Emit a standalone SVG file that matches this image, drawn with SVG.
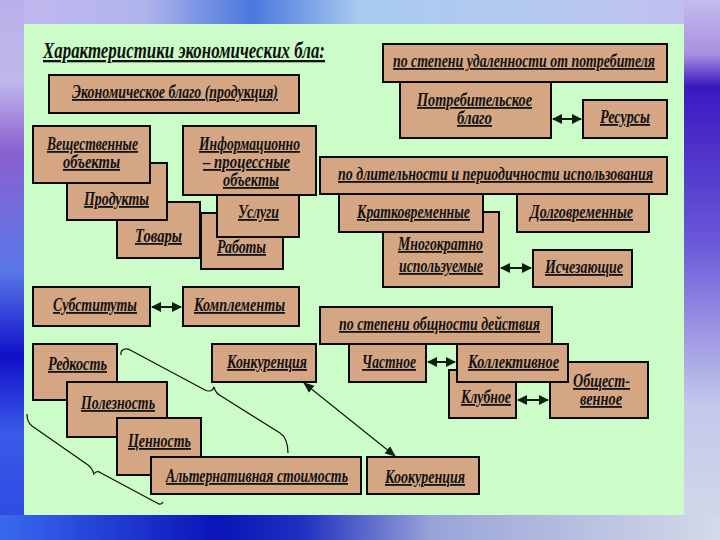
<svg xmlns="http://www.w3.org/2000/svg" width="720" height="540" viewBox="0 0 720 540">
<defs>
<linearGradient id="gTop" x1="0" y1="0" x2="1" y2="0">
<stop offset="0" stop-color="#c4baf0"/><stop offset="0.2" stop-color="#b0b4ec"/><stop offset="0.35" stop-color="#4a78dc"/><stop offset="0.5" stop-color="#a8cbf0"/><stop offset="0.8" stop-color="#b8c8f0"/><stop offset="1" stop-color="#c4bcf0"/>
</linearGradient>
<linearGradient id="gLeft" x1="0" y1="0" x2="0" y2="1">
<stop offset="0" stop-color="#b8b0e8"/><stop offset="0.15" stop-color="#c0b8ec"/><stop offset="0.28" stop-color="#8a60d0"/><stop offset="0.5" stop-color="#5a78e8"/><stop offset="0.66" stop-color="#1010c8"/><stop offset="0.8" stop-color="#3a5ae8"/><stop offset="1" stop-color="#2a48e0"/>
</linearGradient>
<linearGradient id="gBot" x1="0" y1="0" x2="1" y2="0">
<stop offset="0" stop-color="#3a6af0"/><stop offset="0.3" stop-color="#0a14b8"/><stop offset="0.42" stop-color="#2030c0"/><stop offset="0.6" stop-color="#98a4d8"/><stop offset="1" stop-color="#d4dae8"/>
</linearGradient>
<linearGradient id="gRight" x1="0" y1="0" x2="0" y2="1">
<stop offset="0" stop-color="#c4bcf0"/><stop offset="0.1" stop-color="#a890e0"/><stop offset="0.16" stop-color="#3a18c0"/><stop offset="0.45" stop-color="#6a58d8"/><stop offset="0.75" stop-color="#c4c8ec"/><stop offset="1" stop-color="#d4dae8"/>
</linearGradient>
<marker id="ah" viewBox="0 0 10 10" refX="9" refY="5" markerWidth="10" markerHeight="11" markerUnits="userSpaceOnUse" orient="auto-start-reverse">
<path d="M0,0 L10,5 L0,10 Z" fill="#0d1f10"/>
</marker>
<marker id="ahs" viewBox="0 0 10 10" refX="9" refY="5" markerWidth="11" markerHeight="11" markerUnits="userSpaceOnUse" orient="auto-start-reverse">
<path d="M0,1 L10,5 L0,9 Z" fill="#0d1f10"/>
</marker>
<style>
.b{fill:#d4a684;stroke:#0a0a0a;stroke-width:2}
.t{font-family:"Liberation Serif","DejaVu Serif",serif;font-weight:bold;font-style:italic;font-size:18px;fill:#111;text-decoration:underline}
.ttl{font-size:23px}
.ar{stroke:#0d1f10;stroke-width:2;fill:none;marker-start:url(#ah);marker-end:url(#ah)}
.thin{stroke:#0d1f10;stroke-width:1.2;fill:none;marker-start:url(#ahs);marker-end:url(#ahs)}
.br{stroke:#111;stroke-width:1.2;fill:none}
</style>
</defs>
<rect x="0" y="0" width="720" height="540" fill="#c0c6ec"/>
<rect x="0" y="0" width="720" height="24" fill="url(#gTop)"/>
<rect x="0" y="0" width="24" height="540" fill="url(#gLeft)"/>
<rect x="684" y="0" width="36" height="540" fill="url(#gRight)"/>
<rect x="0" y="515" width="720" height="25" fill="url(#gBot)"/>
<rect x="24" y="24" width="660" height="491" fill="#ccfcc8"/>

<text class="t ttl" x="43" y="58" textLength="282" lengthAdjust="spacingAndGlyphs">Характеристики экономических бла:</text>

<g id="n-econ"><rect class="b" x="49" y="75" width="250" height="38"/><text class="t" x="72" y="98" textLength="206" lengthAdjust="spacingAndGlyphs">Экономическое благо (продукция)</text></g>
<g id="n-tovary"><rect class="b" x="117" y="202" width="83" height="56"/><text class="t" x="135" y="242" textLength="47" lengthAdjust="spacingAndGlyphs">Товары</text></g>
<g id="n-produkty"><rect class="b" x="67" y="163" width="100" height="57"/><text class="t" x="84" y="205" textLength="65" lengthAdjust="spacingAndGlyphs">Продукты</text></g>
<g id="n-veshch"><rect class="b" x="33" y="126" width="117" height="57"/><text class="t" x="47" y="150" textLength="91" lengthAdjust="spacingAndGlyphs">Вещественные</text><text class="t" x="63" y="168" textLength="57" lengthAdjust="spacingAndGlyphs">объекты</text></g>
<g id="n-raboty"><rect class="b" x="201" y="213" width="82" height="56"/><text class="t" x="217" y="253" textLength="49" lengthAdjust="spacingAndGlyphs">Работы</text></g>
<g id="n-uslugi"><rect class="b" x="217" y="190" width="82" height="47"/><text class="t" x="238" y="218" textLength="41" lengthAdjust="spacingAndGlyphs">Услуги</text></g>
<g id="n-info"><rect class="b" x="183" y="126" width="133" height="69"/><text class="t" x="199" y="150" textLength="101" lengthAdjust="spacingAndGlyphs">Информационно</text><text class="t" x="203" y="168" textLength="87" lengthAdjust="spacingAndGlyphs">– процессные</text><text class="t" x="223" y="186" textLength="56" lengthAdjust="spacingAndGlyphs">объекты</text></g>

<g id="n-potreb"><rect class="b" x="400" y="82" width="151" height="56"/><text class="t" x="417" y="106" textLength="115" lengthAdjust="spacingAndGlyphs">Потребительское</text><text class="t" x="457" y="124" textLength="35" lengthAdjust="spacingAndGlyphs">благо</text></g>
<g id="n-h1"><rect class="b" x="383" y="44" width="284" height="38"/><text class="t" x="393" y="67" textLength="262" lengthAdjust="spacingAndGlyphs">по степени удаленности от потребителя</text></g>
<g id="n-resursy"><rect class="b" x="583" y="100" width="84" height="38"/><text class="t" x="600" y="123" textLength="50" lengthAdjust="spacingAndGlyphs">Ресурсы</text></g>

<g id="n-mnogo"><rect class="b" x="383" y="212" width="116" height="75"/><text class="t" x="398" y="250" textLength="85" lengthAdjust="spacingAndGlyphs">Многократно</text><text class="t" x="399" y="272" textLength="84" lengthAdjust="spacingAndGlyphs">используемые</text></g>
<g id="n-kratko"><rect class="b" x="339" y="194" width="144" height="38"/><text class="t" x="357" y="218" textLength="113" lengthAdjust="spacingAndGlyphs">Кратковременные</text></g>
<g id="n-dolgo"><rect class="b" x="517" y="194" width="132" height="38"/><text class="t" x="530" y="218" textLength="103" lengthAdjust="spacingAndGlyphs">Долговременные</text></g>
<g id="n-h2"><rect class="b" x="320" y="157" width="347" height="37"/><text class="t" x="338" y="180" textLength="315" lengthAdjust="spacingAndGlyphs">по длительности и периодичности использования</text></g>
<g id="n-ischez"><rect class="b" x="533" y="250" width="99" height="37"/><text class="t" x="545" y="273" textLength="78" lengthAdjust="spacingAndGlyphs">Исчезающие</text></g>

<g id="n-subst"><rect class="b" x="33" y="287" width="117" height="39"/><text class="t" x="53" y="311" textLength="84" lengthAdjust="spacingAndGlyphs">Субституты</text></g>
<g id="n-kompl"><rect class="b" x="183" y="287" width="116" height="39"/><text class="t" x="194" y="311" textLength="91" lengthAdjust="spacingAndGlyphs">Комплементы</text></g>

<g id="n-chast"><rect class="b" x="349" y="344" width="77" height="38"/><text class="t" x="362" y="368" textLength="54" lengthAdjust="spacingAndGlyphs">Частное</text></g>
<g id="n-klub"><rect class="b" x="449" y="370" width="67" height="48"/><text class="t" x="461" y="403" textLength="50" lengthAdjust="spacingAndGlyphs">Клубное</text></g>
<g id="n-obshch"><rect class="b" x="550" y="362" width="98" height="56"/><text class="t" x="573" y="387" textLength="57" lengthAdjust="spacingAndGlyphs">Общест-</text><text class="t" x="580" y="405" textLength="42" lengthAdjust="spacingAndGlyphs">венное</text></g>
<g id="n-kollekt"><rect class="b" x="457" y="344" width="111" height="38"/><text class="t" x="468" y="368" textLength="91" lengthAdjust="spacingAndGlyphs">Коллективное</text></g>
<g id="n-h3"><rect class="b" x="320" y="307" width="232" height="37"/><text class="t" x="339" y="330" textLength="201" lengthAdjust="spacingAndGlyphs">по степени общности действия</text></g>

<g id="n-kookur"><rect class="b" x="367" y="457" width="112" height="37"/><text class="t" x="385" y="483" textLength="80" lengthAdjust="spacingAndGlyphs">Коокуренция</text></g>
<g id="n-redk"><rect class="b" x="33" y="344" width="84" height="56"/><text class="t" x="48" y="370" textLength="59" lengthAdjust="spacingAndGlyphs">Редкость</text></g>
<g id="n-polez"><rect class="b" x="67" y="382" width="100" height="55"/><text class="t" x="81" y="409" textLength="74" lengthAdjust="spacingAndGlyphs">Полезность</text></g>
<g id="n-tsenn"><rect class="b" x="117" y="418" width="84" height="57"/><text class="t" x="128" y="447" textLength="63" lengthAdjust="spacingAndGlyphs">Ценность</text></g>
<g id="n-alt"><rect class="b" x="151" y="457" width="210" height="37"/><text class="t" x="166" y="482" textLength="182" lengthAdjust="spacingAndGlyphs">Альтернативная стоимость</text></g>
<g id="n-konk"><rect class="b" x="212" y="344" width="104" height="38"/><text class="t" x="227" y="368" textLength="80" lengthAdjust="spacingAndGlyphs">Конкуренция</text></g>

<g id="connectors">
<line class="ar" x1="152" y1="307" x2="181" y2="307"/>
<line class="ar" x1="553" y1="119" x2="581" y2="119"/>
<line class="ar" x1="501" y1="268" x2="531" y2="268"/>
<line class="ar" x1="428" y1="362" x2="455" y2="362"/>
<line class="ar" x1="518" y1="400" x2="548" y2="400"/>
<line class="thin" x1="304" y1="383" x2="395" y2="456"/>
<path class="br" d="M121,355 C120,349 126,347 132,351 L205,390 C209,392 213,391 214,387 C215,391 217,394 221,396 L280,433 C286,437 288,444 288,453"/>
<path class="br" d="M27,414 C27,419 28,423 32,426 L88,465 C92,468 93,471 94,474 C96,471 98,471 101,473 L157,503 C160,505 162,504 163,502"/>
</g>
</svg>
